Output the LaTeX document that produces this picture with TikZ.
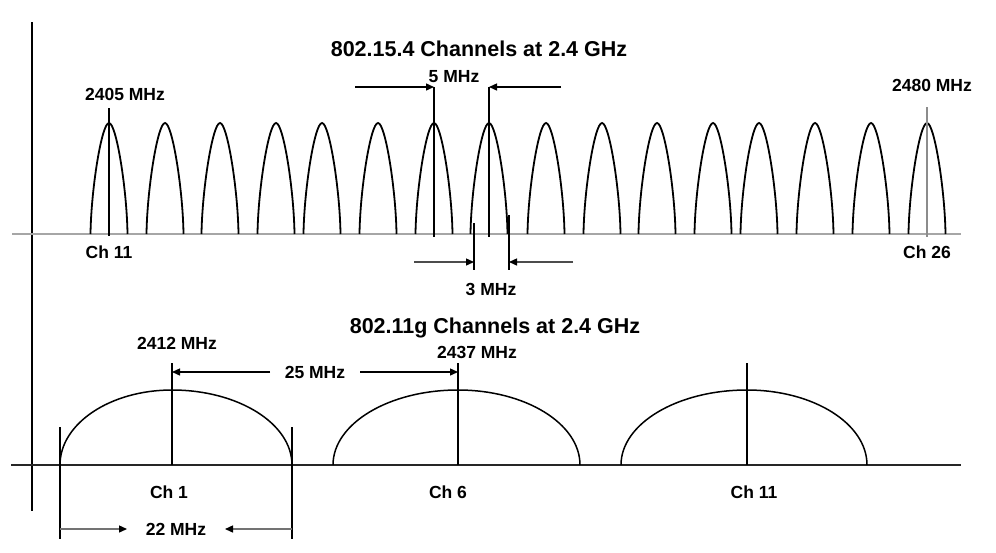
\documentclass[tikz,border=0pt]{standalone}
\usepackage{fontspec}
\setmainfont{Liberation Sans}
\usetikzlibrary{arrows.meta}
\tikzset{
  lbl/.style={font=\bfseries\fontsize{17.5}{19}\selectfont, inner sep=0pt},
  ttl/.style={font=\bfseries\fontsize{21.5}{23}\selectfont, inner sep=0pt},
  ln/.style={line width=1.6pt, black},
  hump/.style={line width=1.8pt, black},
  dimarrow/.style={line width=1.4pt, -{Triangle[length=8pt,width=7pt]}},
  greyarrow/.style={line width=1.4pt, draw=black!55, -{Triangle[length=8pt,width=7pt,color=black]}},
}
\begin{document}
\begin{tikzpicture}[x=1pt,y=-1pt]
\useasboundingbox (0,0) rectangle (996,552);
% axes
\draw[ln] (32,22) -- (32,511);
\draw[line width=2.4pt, black!35] (12,234) -- (961,234);
\draw[line width=1.8pt, black!85] (11,465) -- (961,465);
% upper humps
\foreach \c in {109,165,220,276,322,378,434,489,546,602,657,713,759,815,871,927}{
  \draw[hump] (\c-18.5,234) .. controls (\c-17.9,189.6) and (\c-7.4,123) .. (\c,123)
     .. controls (\c+7.4,123) and (\c+17.9,189.6) .. (\c+18.5,234);
}
% upper markers
\draw[ln] (109,108) -- (109,236);
\draw[line width=1.6pt, black!45] (927,107) -- (927,237);
\coordinate (m5a) at (434,87);
\coordinate (m5b) at (489,87);
\draw[ln] (m5a) -- (434,237);
\draw[ln] (m5b) -- (489,237);
\coordinate (s5a) at (355,87);
\coordinate (s5b) at (561,87);
\draw[dimarrow] (s5a) -- (m5a);
\draw[dimarrow] (s5b) -- (m5b);
\coordinate (m3a) at (474,262);
\coordinate (m3b) at (509,262);
\draw[ln] (474,223) -- (474,270);
\draw[ln] (509,215) -- (509,270);
\coordinate (s3a) at (414,262);
\coordinate (s3b) at (573,262);
\draw[line width=1.4pt, draw=black!70, -{Triangle[length=8pt,width=7pt,color=black]}] (s3a) -- (m3a);
\draw[line width=1.4pt, draw=black!70, -{Triangle[length=8pt,width=7pt,color=black]}] (s3b) -- (m3b);
% upper texts
\node[ttl] (t1) at (479,49) {802.15.4 Channels at 2.4 GHz};
\node[lbl] (f2405) at (125,94) {2405 MHz};
\node[lbl] (f2480) at (932,85) {2480 MHz};
\node[lbl] (ch11a) at (109,252) {Ch 11};
\node[lbl] (ch26) at (927,252) {Ch 26};
\node[lbl] (l5) at (454,77) {5 MHz};
\node[lbl] (l3) at (491,289) {3 MHz};
% lower humps (two quarter ellipses each)
\foreach \l/\c/\r in {60/172/292, 333/458/580, 621/747/867}{
  \draw[line width=1.5pt, black]
    (\l,465) .. controls (\l,465-0.5523*75) and (\c-0.5523*\c+0.5523*\l,390) .. (\c,390)
    .. controls (\c+0.5523*\r-0.5523*\c,390) and (\r,465-0.5523*75) .. (\r,465);
}
\draw[ln] (172,363) -- (172,465);
\draw[ln] (458,363) -- (458,465);
\draw[ln] (747,363) -- (747,465);
\draw[ln] (60,427) -- (60,539);
\draw[ln] (292,427) -- (292,539);
% 25 MHz
\coordinate (m25a) at (172,372);
\coordinate (m25b) at (458,372);
\coordinate (s25a) at (270,372);
\coordinate (s25b) at (360,372);
\draw[dimarrow] (s25a) -- (m25a);
\draw[dimarrow] (s25b) -- (m25b);
% 22 MHz
\coordinate (e22a) at (60,529);
\coordinate (e22b) at (292,529);
\coordinate (h22a) at (127,529);
\coordinate (h22b) at (225,529);
\draw[greyarrow] (e22a) -- (h22a);
\draw[greyarrow] (e22b) -- (h22b);
% lower texts
\node[ttl] (t2) at (495,328) {802.11g Channels at 2.4 GHz};
\node[lbl] (f2412) at (177,343) {2412 MHz};
\node[lbl] (f2437) at (477,352) {2437 MHz};
\node[lbl] (l25) at (315,372) {25 MHz};
\node[lbl] (l22) at (176,529) {22 MHz};
\node[lbl] (c1) at (169,492) {Ch 1};
\node[lbl] (c6) at (448,492) {Ch 6};
\node[lbl] (c11) at (754,492) {Ch 11};
\end{tikzpicture}
\end{document}
